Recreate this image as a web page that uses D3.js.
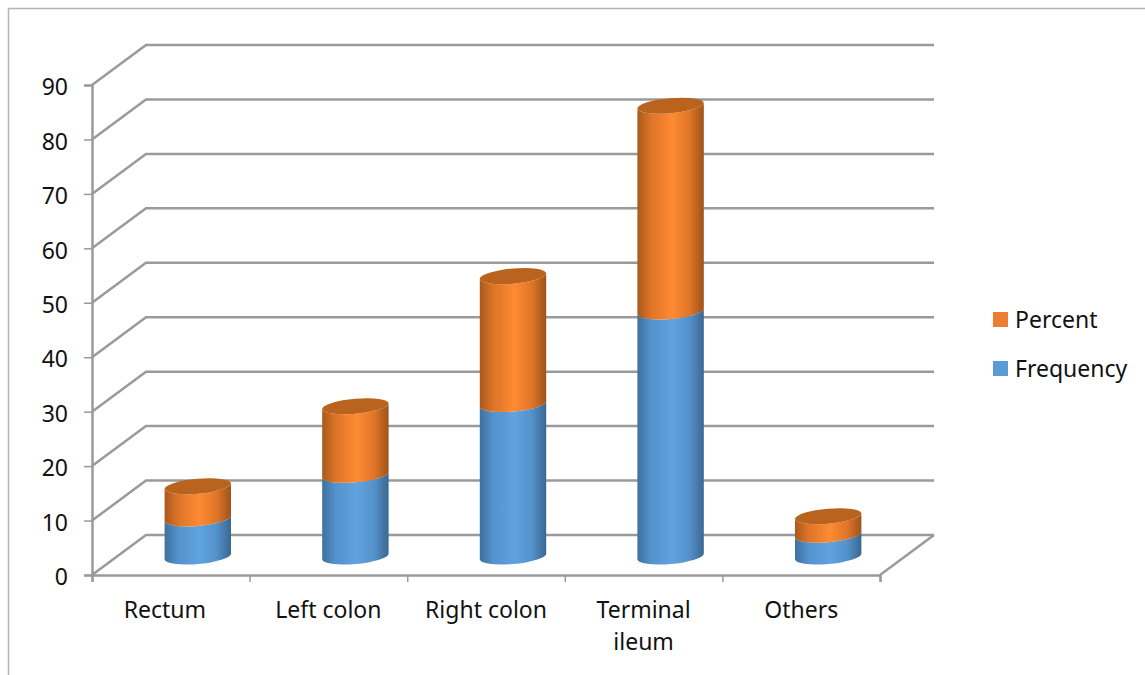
<!DOCTYPE html>
<html>
<head>
<meta charset="utf-8">
<style>
    html, body { margin: 0; padding: 0; background: #fff; }
    text { font-family: "Noto Sans", sans-serif; font-size: 23px; fill: #111; }
</style>
<script src="https://d3js.org/d3.v7.min.js"></script>
</head>
<body>
<div id="chart"></div>
<script>
// stacked cylinder chart with a 3D looking wall and floor

const categories = ["Rectum", "Left colon", "Right colon", "Terminal ileum", "Others"];
const frequency = [7, 15, 28, 45, 4];
const percent = [5.9, 12.6, 23.5, 37.8, 3.4];
const yTicks = [0, 10, 20, 30, 40, 50, 60, 70, 80, 90];

const seriesNames = ["Percent", "Frequency"];
const seriesColors = {Percent: "#ed7d31", Frequency: "#5b9bd5"};
const shades = {
    Percent: ["#a9591b", "#dc7428", "#ff8a33", "#e07628", "#9e5319"],
    Frequency: ["#3f709f", "#5492cb", "#5fa3e0", "#5492cb", "#3a6792"]
};

const width = 1145, height = 675;
const gridColor = "#9a9a9a";

const svg = d3.select("#chart").append("svg")
    .attr("width", width)
    .attr("height", height);

// outer frame, only top and left are inside the crop
svg.append("path")
    .attr("d", "M8.5,675V8.5H1145")
    .attr("fill", "none")
    .attr("stroke", "#b4b4b4")
    .attr("stroke-width", 1.5);

// Scales
const y = d3.scaleLinear().domain([0, 90]).range([575, 85]);
const xBand = d3.scaleBand().domain(categories).range([92, 880]);
const xEdge = d3.scaleLinear().domain([0, categories.length]).range([92, 880]);

// depth of the 3D box
const depthX = 54, depthY = -40;

// gridlines on side wall and back wall
svg.append("g").selectAll("path")
    .data(yTicks)
    .enter().append("path")
    .attr("fill", "none")
    .attr("stroke", gridColor)
    .attr("stroke-width", 2.5)
    .attr("d", d => "M" + xEdge(0) + "," + y(d)
        + "L" + (xEdge(0) + depthX) + "," + (y(d) + depthY)
        + "H" + (xEdge(categories.length) + depthX));

// right floor edge
svg.append("path")
    .attr("fill", "none")
    .attr("stroke", gridColor)
    .attr("stroke-width", 2.5)
    .attr("d", "M" + xEdge(categories.length) + "," + y(0)
        + "L" + (xEdge(categories.length) + depthX) + "," + (y(0) + depthY));

// Axes
const yAxis = d3.axisLeft(y).tickValues(yTicks).tickSize(8).tickPadding(16);
const xAxis = d3.axisBottom(xEdge).ticks(categories.length).tickSize(7).tickFormat("");

const yG = svg.append("g").attr("transform", "translate(92,0)").call(yAxis);
const xG = svg.append("g").attr("transform", "translate(0,575)").call(xAxis);

[yG, xG].forEach(g => {
    g.select(".domain").attr("stroke", gridColor).attr("stroke-width", 2.5);
    g.selectAll(".tick line").attr("stroke", gridColor).attr("stroke-width", 1.5);
});
yG.selectAll(".tick text").style("font-size", "23px").attr("dy", "0.42em").attr("fill", "#111");

// category labels, long ones go on two lines
const labels = svg.append("g").selectAll("text")
    .data(categories)
    .enter().append("text")
    .attr("text-anchor", "middle")
    .attr("x", (d, i) => xBand(d) + xBand.bandwidth() / 2 - (i === 0 ? 6 : 0))
    .attr("y", 618);

labels.each(function (d) {
    let el = d3.select(this);
    let words = d === "Terminal ileum" ? d.split(" ") : [d];
    words.forEach((w, i) => {
        el.append("tspan")
            .attr("x", el.attr("x"))
            .attr("dy", i === 0 ? 0 : 32)
            .text(w);
    });
});

// gradients for the cylinder sides
const defs = svg.append("defs");
seriesNames.forEach(name => {
    let grad = defs.append("linearGradient").attr("id", "side-" + name);
    shades[name].forEach((c, i) => {
        grad.append("stop")
            .attr("offset", [0, 0.2, 0.52, 0.78, 1][i])
            .attr("stop-color", c);
    });
});

// cylinder shape, a tilted ellipse
const rx = 33.2, ry = 7.5, tilt = 5;
const tipY = 2.8;   // how far the side tangent points sit from the ellipse centre
const liftY = 18.5; // base centre above the front floor line

function cx(cat) {
    return xBand(cat) + xBand.bandwidth() / 2 + depthX / 2;
}
function cy(v) {
    return y(v) - liftY;
}
function arc(x, yy, sweep) {
    return "A" + rx + "," + ry + " " + (-tilt) + " 0 " + sweep + " " + x + "," + yy;
}
function sidePath(cat, v0, v1) {
    let l = cx(cat) - rx, r = cx(cat) + rx;
    return "M" + l + "," + (cy(v1) + tipY)
        + arc(r, cy(v1) - tipY, 0)
        + "L" + r + "," + (cy(v0) - tipY)
        + arc(l, cy(v0) + tipY, 1)
        + "Z";
}
function topPath(cat, v) {
    let l = cx(cat) - rx, r = cx(cat) + rx;
    return "M" + l + "," + (cy(v) + tipY)
        + arc(r, cy(v) - tipY, 0)
        + arc(l, cy(v) + tipY, 0)
        + "Z";
}

// draw the cylinders
const bars = svg.append("g").selectAll("g")
    .data(categories)
    .enter().append("g");

bars.append("path")
    .attr("fill", "url(#side-Frequency)")
    .attr("d", (d, i) => sidePath(d, 0, frequency[i]));

bars.append("path")
    .attr("fill", "url(#side-Percent)")
    .attr("d", (d, i) => sidePath(d, frequency[i], frequency[i] + percent[i]));

bars.append("path")
    .attr("fill", "#b9631f")
    .attr("d", (d, i) => topPath(d, frequency[i] + percent[i]));

// Legend
const legendY = d3.scalePoint().domain(seriesNames).range([319.5, 368.5]);
const legend = svg.append("g").selectAll("g")
    .data(seriesNames)
    .enter().append("g")
    .attr("transform", d => "translate(993," + legendY(d) + ")");

legend.append("rect")
    .attr("y", -7.5)
    .attr("width", 15)
    .attr("height", 15)
    .attr("fill", d => seriesColors[d]);

legend.append("text")
    .attr("x", 22)
    .attr("dy", "0.36em")
    .text(d => d);
</script>
</body>
</html>
